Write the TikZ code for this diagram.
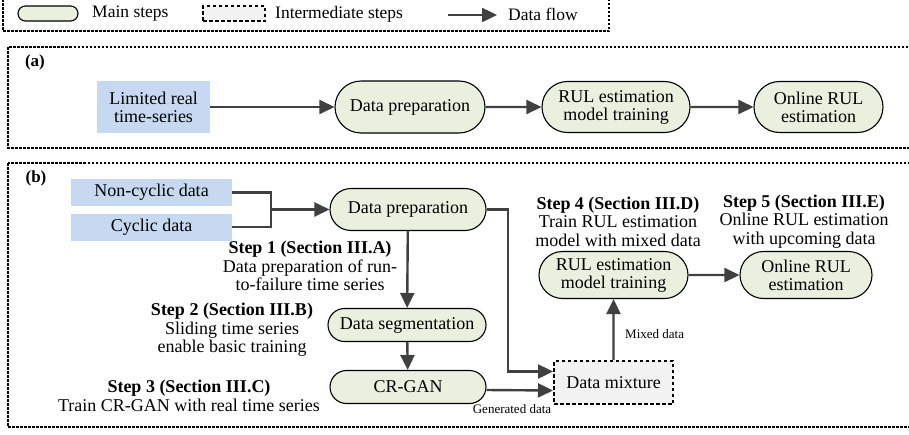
\documentclass[tikz,border=0pt]{standalone}
\usepackage{fontspec}
\setmainfont{Liberation Serif}
\usetikzlibrary{arrows.meta,shapes.misc}
\definecolor{pillgreen}{HTML}{E9F0DE}
\definecolor{boxblue}{HTML}{C6D9F0}
\definecolor{arrowgray}{HTML}{404040}
\definecolor{mixgray}{HTML}{F2F2F2}
\begin{document}
\begin{tikzpicture}[x=1pt,y=-1pt,
  pill/.style={rounded rectangle, draw=black, line width=1.1pt, fill=pillgreen, align=center, inner sep=0pt, font=\fontsize{18}{18}\selectfont},
  srcbox/.style={rectangle, fill=boxblue, align=center, inner sep=0pt, font=\fontsize{18}{18}\selectfont},
  mixbox/.style={rectangle, draw=black, line width=2pt, dash pattern=on 3.5pt off 2.5pt, fill=mixgray, align=center, inner sep=0pt, font=\fontsize{18}{18}\selectfont},
  flow/.style={draw=arrowgray, line width=2.4pt, -{Triangle[length=15pt,width=14pt]}},
  plain/.style={draw=arrowgray, line width=2.4pt},
  panel/.style={draw=black, line width=1.3pt, dash pattern=on 2.5pt off 1.5pt},
  steptxt/.style={align=center, inner sep=0pt, font=\fontsize{18}{18.5}\selectfont},
  small/.style={inner sep=0pt, font=\fontsize{13}{13}\selectfont},
  legtxt/.style={inner sep=0pt, anchor=west, font=\fontsize{17.5}{18}\selectfont},
  paneltag/.style={inner sep=0pt, font=\fontsize{17}{17}\selectfont\bfseries}
]
\useasboundingbox (0,0) rectangle (909,434);

% Legend
\draw[panel] (3,-5) rectangle (609,31);
\node[pill, minimum width=60pt, minimum height=15pt] (legpill) at (48,13.5) {};
\node[legtxt] (legmain) at (92,14) {Main steps};
\node[mixbox, line width=1.7pt, minimum width=62pt, minimum height=15pt] (legmix) at (234,13.5) {};
\node[legtxt] (leginter) at (275,14) {Intermediate steps};
\coordinate (legA) at (448,15);
\coordinate (legB) at (497,15);
\draw[flow] (legA) -- (legB);
\node[legtxt] (legflow) at (508,14) {Data flow};

% Panel (a)
\draw[panel] (8,47) rectangle (915,148);
\node[paneltag] (taga) at (35,62) {(a)};
\node[srcbox, minimum width=113pt, minimum height=52pt] (lim) at (153.5,107) {Limited real\\time-series};
\node[pill, minimum width=150pt, minimum height=52pt] (prepA) at (410,107) {Data preparation};
\node[pill, minimum width=148pt, minimum height=51pt] (rulA) at (616,107) {RUL estimation\\model training};
\node[pill, minimum width=129pt, minimum height=51pt] (onA) at (818.5,107) {Online RUL\\estimation};
\draw[flow] (lim) -- (prepA);
\draw[flow] (prepA) -- (rulA);
\draw[flow] (rulA) -- (onA);

% Panel (b)
\draw[panel] (8,163) rectangle (915,427);
\node[paneltag] (tagb) at (36,178) {(b)};
\node[srcbox, minimum width=161pt, minimum height=27pt] (noncyc) at (151.5,192.3) {Non-cyclic data};
\node[srcbox, minimum width=161pt, minimum height=27pt] (cyc) at (151.5,227) {Cyclic data};
\node[pill, minimum width=156pt, minimum height=42pt] (prepB) at (408,209.5) {Data preparation};
\node[pill, minimum width=158pt, minimum height=33pt] (seg) at (407,325) {Data segmentation};
\node[pill, minimum width=156pt, minimum height=33pt] (cr) at (408,387) {CR-GAN};
\node[mixbox, minimum width=119pt, minimum height=43pt] (mix) at (613.5,382.5) {Data mixture};
\node[pill, minimum width=149pt, minimum height=47pt] (rulB) at (613.5,275) {RUL estimation\\model training};
\node[pill, minimum width=132pt, minimum height=47pt] (onB) at (806,275) {Online RUL\\estimation};

\coordinate (join) at (271,209.5);
\coordinate (bend) at (508,209.5);
\draw[plain] (noncyc.east) -| (join);
\draw[plain] (cyc.east) -| (join);
\draw[flow] (join) -- (prepB);
\draw[flow] (prepB) -- (seg);
\draw[flow] (seg) -- (cr);
\draw[flow] (prepB.east) -- (bend) |- ([yshift=11pt]mix.west);
\draw[flow] ([yshift=-3pt]cr.east) -- ([yshift=-8pt]mix.west);
\draw[flow] (mix) -- (rulB);
\draw[flow] (rulB) -- (onB);

\node[small, anchor=west] (lblmixed) at (625,334) {Mixed data};
\node[small] (lblgen) at (512,409.5) {Generated data};

\node[steptxt] (s1) at (310,266) {\textbf{Step 1 (Section III.A)}\\Data preparation of run-\\to-failure time series};
\node[steptxt] (s2) at (232,330) {\textbf{Step 2 (Section III.B)}\\Sliding time series\\enable basic training};
\node[steptxt] (s3) at (189,396) {\textbf{Step 3 (Section III.C)}\\Train CR-GAN with real time series};
\node[steptxt] (s4) at (618,221.5) {\textbf{Step 4 (Section III.D)}\\Train RUL estimation\\model with mixed data};
\node[steptxt] (s5) at (804,221.5) {\textbf{Step 5 (Section III.E)}\\Online RUL estimation\\with upcoming data};
\end{tikzpicture}
\end{document}
